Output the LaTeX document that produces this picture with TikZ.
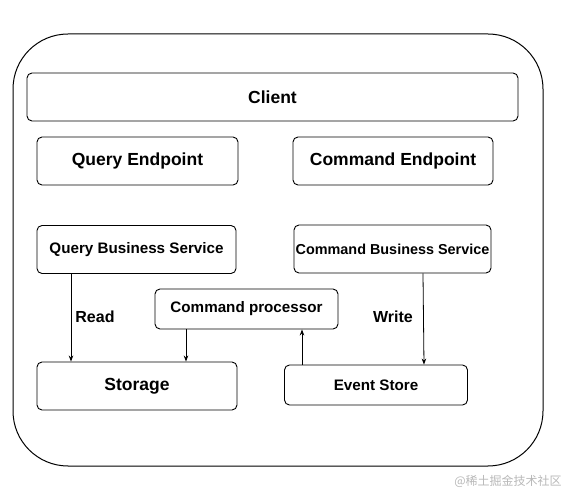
\documentclass[tikz,border=0pt]{standalone}
\usepackage{fontspec}
\setmainfont{Liberation Sans}
\newfontfamily\cjk{Noto Sans CJK SC}
\usetikzlibrary{arrows.meta}
\tikzset{
  box/.style={draw, line width=0.9pt, rounded corners=5pt, inner sep=0pt, font=\bfseries\fontsize{17.5}{20}\selectfont},
  boxs/.style={box, font=\bfseries\fontsize{15.2}{18}\selectfont},
  arr/.style={-{Stealth[length=6pt,width=4.5pt]}, line width=0.8pt},
  lbl/.style={font=\bfseries\fontsize{16}{18}\selectfont}
}
\begin{document}
\begin{tikzpicture}[x=1pt,y=-1pt]
\useasboundingbox (0,0) rectangle (566,492);
\node[draw, line width=1pt, rounded corners=55pt, minimum width=530pt, minimum height=432pt] (outer) at (278,250) {};
\node[box, minimum width=491pt, minimum height=48pt] (client) at (272.5,97) {Client};
\node[box, minimum width=201pt, minimum height=48pt] (qe) at (137.5,161) {Query Endpoint};
\node[box, minimum width=200pt, minimum height=48pt] (ce) at (393,161) {Command Endpoint};
\node[boxs, minimum width=199pt, minimum height=48pt] (qbs) at (136.5,249.5) {Query Business Service};
\node[boxs, minimum width=197pt, minimum height=48pt, font=\bfseries\fontsize{14.4}{18}\selectfont] (cbs) at (392.5,249) {Command Business Service};
\node[boxs, minimum width=183pt, minimum height=40pt] (cp) at (246.5,309) {Command processor};
\node[box, minimum width=200pt, minimum height=48pt] (st) at (137,386) {Storage};
\node[boxs, minimum width=183pt, minimum height=40pt] (es) at (376,385) {Event Store};
\draw[arr] ([xshift=-65.5pt]qbs.south) -- ([xshift=-66pt]st.north);
\draw[arr] ([xshift=-60.5pt]cp.south) -- ([xshift=49pt]st.north);
\draw[arr] ([xshift=-74pt]es.north) -- ([xshift=55.5pt]cp.south);
\draw[arr] ([xshift=30.5pt]cbs.south) -- ([xshift=48pt]es.north);
\node[lbl] (read) at (95,317) {Read};
\node[lbl] (write) at (393,317) {Write};
\node[text=black!28, font=\cjk\fontsize{12}{14}\selectfont] (wm) at (508,481) {@稀土掘金技术社区};
\end{tikzpicture}
\end{document}
